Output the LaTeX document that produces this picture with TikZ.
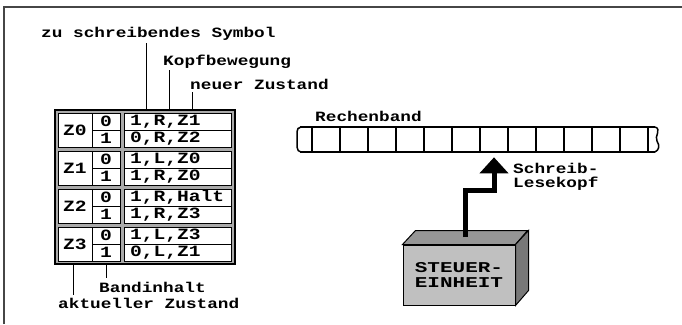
\documentclass[tikz,border=0pt]{standalone}
\usepackage{fontspec}
\newfontfamily\pcfont[FakeStretch=1.25]{Liberation Mono}
\newfontfamily\pcbreit[FakeStretch=1.4]{Liberation Mono}
\usetikzlibrary{arrows.meta,positioning}
\definecolor{rahmen}{RGB}{70,70,70}
\definecolor{fuge}{RGB}{170,170,170}
\definecolor{front}{RGB}{192,192,192}
\definecolor{deckel}{RGB}{150,150,150}
\definecolor{seite}{RGB}{120,120,120}
\tikzset{
  lbl/.style={font=\pcfont\bfseries\fontsize{14.2}{17}\selectfont,inner sep=0pt,anchor=base west},
  tabtxt/.style={font=\pcfont\bfseries\fontsize{15.7}{17}\selectfont,draw,fill=white,line width=1pt,inner sep=0pt},
  zcell/.style={tabtxt,minimum width=34pt,minimum height=34pt},
  scell/.style={tabtxt,minimum width=28pt,minimum height=17pt},
  acell/.style={tabtxt,minimum width=107pt,minimum height=17pt,text width=95pt,align=left,inner xsep=6pt},
  zeiger/.style={line width=1pt},
  zelle/.style={draw,line width=1.2pt,minimum width=28pt,minimum height=25pt,inner sep=0pt},
  kopfpfeil/.style={line width=5pt,-{Triangle[width=28pt,length=16pt]}},
}
\begin{document}
\begin{tikzpicture}[x=1pt,y=-1pt]
\useasboundingbox (0,0) rectangle (682,324);
\draw[rahmen,line width=1.5pt] (4,324) -- (4,7) -- (682,7);

\node[draw,line width=1.5pt,fill=fuge,minimum width=180pt,minimum height=154pt] (tab) at (145,187) {};
\foreach \g/\ra/\rb [evaluate=\g as \yt using 113+38*\g] in
    {0/{1,R,Z1}/{0,R,Z2},1/{1,L,Z0}/{1,R,Z0},2/{1,R,Halt}/{1,R,Z3},3/{1,L,Z3}/{0,L,Z1}}{
  \node[zcell] (z\g) at (75,\yt+17) {Z\g};
  \node[scell] (sa\g) at (106,\yt+8.5) {0};
  \node[scell] (sb\g) at (106,\yt+25.5) {1};
  \node[acell] (aa\g) at (177.5,\yt+8.5) {\ra};
  \node[acell] (ab\g) at (177.5,\yt+25.5) {\rb};
}

\node[lbl] (lsym) at (41,37.5) {zu schreibendes Symbol};
\node[lbl] (lkopf) at (163,65.5) {Kopfbewegung};
\node[lbl] (lneu) at (190,89.5) {neuer Zustand};
\node[lbl] (lband) at (99,292) {Bandinhalt};
\node[lbl] (lakt) at (58,308.5) {aktueller Zustand};
\coordinate (psym) at (146,43);
\coordinate (pkopf) at (169,70);
\coordinate (pneu) at (192,92);
\coordinate (pband) at (106,278);
\coordinate (pakt) at (73,295);
\draw[zeiger] (psym) -- (psym |- tab.north);
\draw[zeiger] (pkopf) -- (pkopf |- tab.north);
\draw[zeiger] (pneu) -- (pneu |- tab.north);
\draw[zeiger] (pband |- tab.south) -- (pband);
\draw[zeiger] (pakt |- tab.south) -- (pakt);

\node[lbl] (lrech) at (315,121.5) {Rechenband};
\foreach \i in {0,...,11}
  \node[zelle] (c\i) at (326+28*\i,139.2) {};
\draw[line width=2pt] (300,127) -- (655,127) (300,152) -- (655,152);
\draw[line width=1.5pt] (301,127) .. controls (295,128) and (298,134) .. (297,138) -- (297,147)
  .. controls (297,150) and (299,152) .. (301,152);
\draw[line width=1.5pt] (655,127) .. controls (662,129) and (654,137) .. (657,141)
  .. controls (660,146) and (659,150) .. (655,152);

\node[draw,line width=1pt,fill=front,minimum width=112pt,minimum height=60pt,align=center,
  font=\pcbreit\bfseries\fontsize{15}{15.5}\selectfont] (steuer) at (459,275) {STEUER-\\EINHEIT};
\draw[line width=1pt,fill=deckel] (steuer.north west) -- ++(13,-14) -- ++(112,0) -- (steuer.north east) -- cycle;
\draw[line width=1pt,fill=seite] (steuer.north east) -- ++(13,-14) -- ++(0,60) -- (steuer.south east) -- cycle;
\coordinate (anschluss) at (465,237);
\draw[kopfpfeil] (anschluss) |- ([yshift=-38pt]c6.south) -- ([yshift=-5pt]c6.south);
\node[lbl,anchor=west,align=left,font=\pcfont\bfseries\fontsize{14.2}{14}\selectfont] (lkopf2) at (513,176.5) {Schreib-\\Lesekopf};
\end{tikzpicture}
\end{document}
